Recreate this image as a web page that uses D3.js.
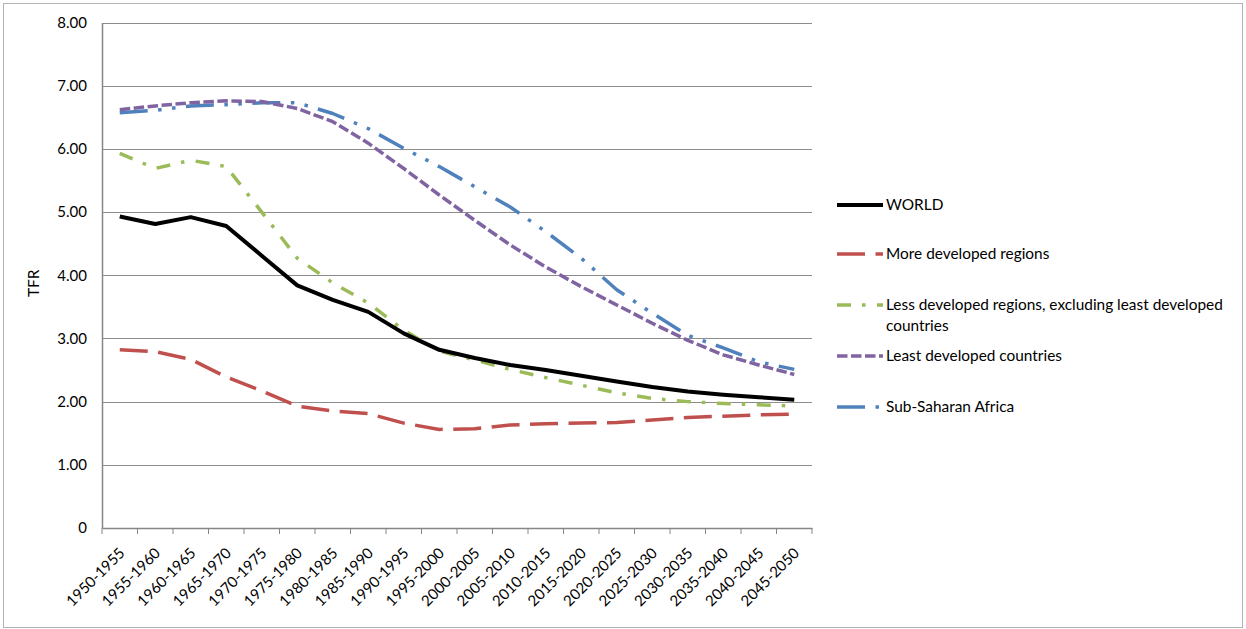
<!DOCTYPE html>
<html>
<head>
<meta charset="utf-8">
<script src="https://cdn.jsdelivr.net/npm/d3@7"></script>
<style>
  body { margin: 0; background: #fff; }
  text { font-family: Lato, "Open Sans", sans-serif; fill: #000; }
</style>
</head>
<body>
<div id="chart"></div>
<script>
const periods = ['1950-1955', '1955-1960', '1960-1965', '1965-1970', '1970-1975', '1975-1980',
  '1980-1985', '1985-1990', '1990-1995', '1995-2000', '2000-2005', '2005-2010', '2010-2015',
  '2015-2020', '2020-2025', '2025-2030', '2030-2035', '2035-2040', '2040-2045', '2045-2050'];

const world = [4.93, 4.81, 4.92, 4.78, 4.31, 3.84, 3.61, 3.42, 3.08, 2.82,
  2.69, 2.58, 2.50, 2.41, 2.32, 2.23, 2.16, 2.11, 2.07, 2.03];
const moreDeveloped = [2.82, 2.79, 2.67, 2.39, 2.17, 1.93, 1.85, 1.81, 1.66, 1.56,
  1.57, 1.63, 1.65, 1.66, 1.67, 1.71, 1.75, 1.77, 1.79, 1.80];
const lessDeveloped = [5.93, 5.69, 5.82, 5.72, 5.00, 4.27, 3.88, 3.56, 3.13, 2.80,
  2.66, 2.51, 2.38, 2.26, 2.14, 2.05, 2.00, 1.97, 1.95, 1.93];
const leastDeveloped = [6.62, 6.68, 6.73, 6.76, 6.75, 6.64, 6.43, 6.09, 5.69, 5.27,
  4.87, 4.48, 4.13, 3.82, 3.53, 3.24, 2.97, 2.74, 2.58, 2.43];
const subSaharan = [6.57, 6.61, 6.68, 6.70, 6.73, 6.73, 6.56, 6.32, 6.01, 5.72,
  5.40, 5.08, 4.69, 4.27, 3.77, 3.40, 3.05, 2.85, 2.63, 2.51];

const yTicks = [0, 1, 2, 3, 4, 5, 6, 7, 8];

const series = [
  { name: 'WORLD', values: world, color: '#000000', width: 4, dash: null },
  { name: 'More developed regions', values: moreDeveloped, color: '#c0504d', width: 3.5, dash: '28,10.5' },
  { name: 'Less developed regions, excluding least developed countries', values: lessDeveloped,
    color: '#9bbb59', width: 3.5, dash: '14,11,3.5,11.5' },
  { name: 'Least developed countries', values: leastDeveloped, color: '#8064a2', width: 3.5, dash: '10.5,3.5' },
  { name: 'Sub-Saharan Africa', values: subSaharan, color: '#4f81bd', width: 3.5, dash: '28,10.5,3.5,10.5,3.5,10.5' }
];

const W = 1246, H = 629;
const margin = { left: 102, right: 434, top: 22.5, bottom: 101 };

const svg = d3.select('#chart').append('svg')
  .attr('width', W)
  .attr('height', H);

// outer frame
svg.append('rect')
  .attr('x', 3.5).attr('y', 3.5)
  .attr('width', W - 7).attr('height', H - 5)
  .attr('fill', 'none')
  .attr('stroke', '#b3b3b3')
  .attr('stroke-width', 1);

const x = d3.scaleBand()
  .domain(periods)
  .range([margin.left, W - margin.right]);

const y = d3.scaleLinear()
  .domain([0, 8])
  .range([H - margin.bottom, margin.top]);

// gridlines
svg.append('g')
  .selectAll('line')
  .data(yTicks.filter(d => d > 0))
  .enter().append('line')
  .attr('x1', margin.left)
  .attr('x2', W - margin.right)
  .attr('y1', d => Math.round(y(d)) + 0.5)
  .attr('y2', d => Math.round(y(d)) + 0.5)
  .attr('stroke', '#8c8c8c')
  .attr('stroke-width', 1);

// y axis
const yAxis = svg.append('g')
  .attr('transform', `translate(${margin.left},0)`)
  .call(d3.axisLeft(y).tickValues(yTicks)
    .tickFormat(d => d === 0 ? '0' : d3.format('.2f')(d))
    .tickSize(0).tickPadding(15));
yAxis.select('.domain').attr('stroke', '#868686').attr('stroke-width', 1.5);
yAxis.selectAll('text').attr('font-size', '15px')
  .style('font-family', 'Lato, sans-serif').attr('fill', '#000');

// x axis
const xAxis = svg.append('g')
  .attr('transform', `translate(0,${H - margin.bottom})`)
  .call(d3.axisBottom(x).tickSize(0).tickFormat(''));
xAxis.select('.domain').attr('stroke', '#868686').attr('stroke-width', 1.5);
xAxis.selectAll('.tick').remove();

// boundary ticks between categories
const bounds = periods.map(p => x(p)).concat([x(periods[periods.length - 1]) + x.bandwidth()]);
xAxis.selectAll('line.bound')
  .data(bounds)
  .enter().append('line')
  .attr('class', 'bound')
  .attr('x1', d => d).attr('x2', d => d)
  .attr('y1', 0).attr('y2', 6)
  .attr('stroke', '#868686')
  .attr('stroke-width', 1);

xAxis.selectAll('text.lab')
  .data(periods)
  .enter().append('text')
  .attr('class', 'lab')
  .attr('transform', d => `translate(${x(d) + x.bandwidth() / 2 + 6},${26}) rotate(-45)`)
  .attr('text-anchor', 'end')
  .attr('font-size', '15px')
  .text(d => d);

// y title
svg.append('text')
  .attr('transform', `translate(39,${(margin.top + H - margin.bottom) / 2 + 8}) rotate(-90)`)
  .attr('text-anchor', 'middle')
  .attr('font-size', '15.5px')
  .text('TFR');

// lines
const line = d3.line()
  .x((d, i) => x(periods[i]) + x.bandwidth() / 2)
  .y(d => y(d));

svg.append('g')
  .selectAll('path')
  .data(series.slice().reverse())
  .enter().append('path')
  .attr('d', d => line(d.values))
  .attr('fill', 'none')
  .attr('stroke', d => d.color)
  .attr('stroke-width', d => d.width)
  .attr('stroke-dasharray', d => d.dash)
  .attr('stroke-linejoin', 'round');

// legend
const legendRows = [205, 254, 305, 356, 407];
const legend = svg.append('g');

legend.selectAll('line')
  .data(series)
  .enter().append('line')
  .attr('x1', 837).attr('x2', 883)
  .attr('y1', (d, i) => legendRows[i]).attr('y2', (d, i) => legendRows[i])
  .attr('stroke', d => d.color)
  .attr('stroke-width', d => d.width)
  .attr('stroke-dasharray', d => d.dash);

legend.selectAll('text')
  .data(series)
  .enter().append('text')
  .attr('x', 886)
  .attr('y', (d, i) => legendRows[i] + 5)
  .attr('font-size', '15.4px')
  .each(function(d, i) {
    const t = d3.select(this);
    if (i === 2) {
      t.append('tspan').attr('x', 886).text('Less developed regions, excluding least developed');
      t.append('tspan').attr('x', 886).attr('dy', 21).text('countries');
    } else {
      t.text(d.name);
    }
  });
</script>
</body>
</html>
